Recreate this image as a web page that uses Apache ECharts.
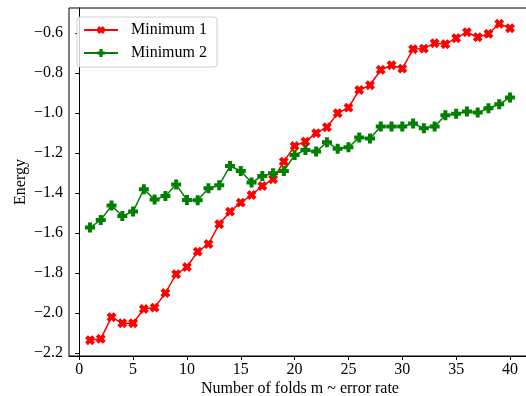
<!DOCTYPE html>
<html>
<head>
<meta charset="utf-8">
<script src="https://cdn.jsdelivr.net/npm/echarts@6/dist/echarts.min.js"></script>
<style>
  html, body { margin: 0; padding: 0; background: #fff; }
  #chart { width: 526px; height: 396px; }
</style>
</head>
<body>
<div id="chart"></div>
<script>
// number of folds m
var folds = [];
for (var i = 1; i <= 40; i++) folds.push(i);

// energies
var minimum1 = [-2.135, -2.128, -2.020, -2.050, -2.050, -1.979, -1.972, -1.899, -1.805, -1.769,
                -1.692, -1.654, -1.555, -1.492, -1.447, -1.409, -1.364, -1.330, -1.242, -1.164,
                -1.142, -1.100, -1.070, -1.000, -0.972, -0.884, -0.860, -0.783, -0.760, -0.777,
                -0.680, -0.677, -0.650, -0.655, -0.625, -0.595, -0.620, -0.603, -0.553, -0.575];
var minimum2 = [-1.572, -1.534, -1.462, -1.514, -1.492, -1.380, -1.432, -1.414, -1.357, -1.434,
                -1.435, -1.375, -1.360, -1.264, -1.289, -1.347, -1.314, -1.300, -1.289, -1.209,
                -1.184, -1.192, -1.145, -1.178, -1.170, -1.122, -1.127, -1.067, -1.067, -1.066,
                -1.052, -1.075, -1.067, -1.010, -1.003, -0.992, -0.997, -0.975, -0.955, -0.922];

var xTicks = [0, 5, 10, 15, 20, 25, 30, 35, 40];
var yTicks = [-2.2, -2.0, -1.8, -1.6, -1.4, -1.2, -1.0, -0.8, -0.6];

// thick plus, rotated 45deg it becomes the filled X
var plusPath = 'path://M3,0H7V3H10V7H7V10H3V7H0V3H3Z';
var FONT = 'Liberation Serif';

function pairs(ys) {
    return folds.map(function (x, i) { return [x, ys[i]]; });
}

var chart = echarts.init(document.getElementById('chart'));

var option = {
    animation: false,
    backgroundColor: '#fff',
    textStyle: { fontFamily: FONT },
    grid: {
        left: 69, top: 8, width: 462, height: 348,
        outerBoundsMode: 'none',
        show: true, borderColor: '#000', borderWidth: 1
    },
    legend: {
        orient: 'vertical',
        left: 77, top: 17,
        padding: [4, 6, 5, 6],
        itemWidth: 34, itemHeight: 10, itemGap: 5,
        borderColor: '#d0d0d0', borderWidth: 1, borderRadius: 3,
        backgroundColor: 'rgba(255,255,255,0.8)',
        textStyle: { fontFamily: FONT, fontSize: 16, color: '#000', lineHeight: 18, padding: [0, 4, 0, 8] },
        data: ['Minimum 1', 'Minimum 2']
    },
    xAxis: {
        type: 'value',
        min: -0.95, max: 41.95,
        name: 'Number of folds m ~ error rate',
        nameLocation: 'middle', nameGap: 25, nameMoveOverlap: false,
        nameTextStyle: { fontFamily: FONT, fontSize: 16, color: '#000' },
        splitLine: { show: false },
        axisLine: { lineStyle: { color: '#000', width: 1 } },
        axisTick: { show: true, length: 4, lineStyle: { color: '#000' }, customValues: xTicks },
        axisLabel: { fontFamily: FONT, fontSize: 16, color: '#000', margin: 6, customValues: xTicks }
    },
    yAxis: {
        type: 'value',
        min: -2.214, max: -0.474,
        name: 'Energy',
        nameLocation: 'middle', nameGap: 40, nameMoveOverlap: false,
        nameTextStyle: { fontFamily: FONT, fontSize: 16, color: '#000' },
        splitLine: { show: false },
        axisLine: { show: true, lineStyle: { color: '#000', width: 1 } },
        axisTick: { show: true, length: 4, lineStyle: { color: '#000' }, customValues: yTicks },
        axisLabel: {
            fontFamily: FONT, fontSize: 16, color: '#000', margin: 6,
            customValues: yTicks,
            formatter: function (v) { return (v < 0 ? '\u2212' : '') + Math.abs(v).toFixed(1); }
        }
    },
    series: [
        {
            name: 'Minimum 1',
            type: 'line',
            data: pairs(minimum1),
            symbol: plusPath,
            symbolRotate: 45,
            symbolSize: 10,
            showAllSymbol: true,
            color: '#ff0000',
            lineStyle: { width: 1.5, color: '#ff0000' },
            itemStyle: { color: '#ff0000' },
            emphasis: { disabled: true }
        },
        {
            name: 'Minimum 2',
            type: 'line',
            data: pairs(minimum2),
            symbol: plusPath,
            symbolSize: 10,
            showAllSymbol: true,
            color: '#008000',
            lineStyle: { width: 1.5, color: '#008000' },
            itemStyle: { color: '#008000' },
            emphasis: { disabled: true }
        }
    ]
};

chart.setOption(option);
</script>
</body>
</html>
